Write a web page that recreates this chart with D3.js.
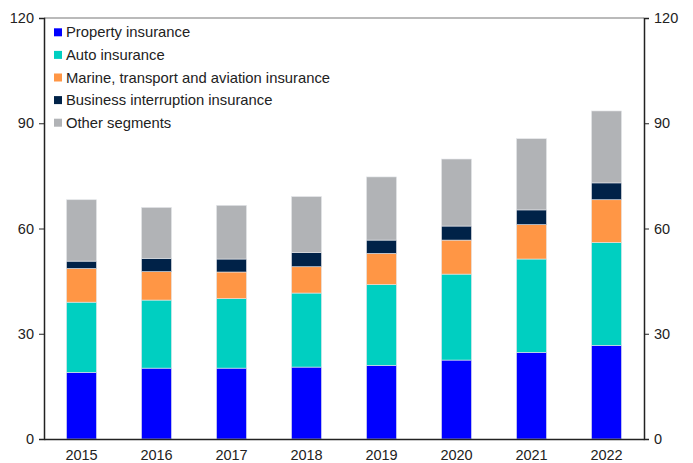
<!DOCTYPE html>
<html>
<head>
<meta charset="utf-8">
<script src="https://cdn.jsdelivr.net/npm/d3@7"></script>
<style>
  body { margin: 0; background: #fff; }
  text { font-family: "Liberation Sans", Arial, sans-serif; fill: #222; }
</style>
</head>
<body>
<svg id="chart" width="693" height="463"></svg>
<script>
var years = ["2015", "2016", "2017", "2018", "2019", "2020", "2021", "2022"];
var seriesNames = ["Property insurance", "Auto insurance", "Marine, transport and aviation insurance",
                   "Business interruption insurance", "Other segments"];
var property = [19.0, 20.2, 20.2, 20.5, 21.0, 22.5, 24.7, 26.7];
var auto = [20.0, 19.4, 19.8, 21.1, 23.0, 24.5, 26.6, 29.3];
var marine = [9.6, 8.1, 7.6, 7.5, 8.9, 9.7, 9.8, 12.2];
var business = [2.1, 3.8, 3.7, 4.0, 3.8, 4.0, 4.2, 4.8];
var other = [17.5, 14.5, 15.3, 16.0, 18.0, 19.1, 20.3, 20.5];
var yTicks = [0, 30, 60, 90, 120];

var colors = ["#0000ff", "#00cfc1", "#ff9645", "#002248", "#b1b3b6"];
var seriesValues = [property, auto, marine, business, other];

var svg = d3.select("#chart");
var margin = {top: 18, right: 49, bottom: 24, left: 44},
    width = +svg.attr("width") - margin.left - margin.right,
    height = +svg.attr("height") - margin.top - margin.bottom;

var g = svg.append("g")
    .attr("transform", "translate(" + margin.left + "," + margin.top + ")");

// table for the stack
var table = years.map(function(yr, i) {
    var row = {year: yr};
    seriesNames.forEach(function(s, j) { row[s] = seriesValues[j][i]; });
    return row;
});
var stacked = d3.stack().keys(seriesNames)(table);

var x = d3.scaleBand()
    .domain(years)
    .range([0, width])
    .paddingInner(0.6)
    .paddingOuter(0.3);

var y = d3.scaleLinear()
    .domain([0, 120])
    .range([height, 0]);

// bars
g.selectAll(".series")
    .data(stacked)
    .enter()
    .append("g")
    .attr("fill", function(d, i) { return colors[i]; })
    .selectAll("rect")
    .data(function(d) { return d; })
    .enter()
    .append("rect")
    .attr("x", function(d) { return x(d.data.year); })
    .attr("y", function(d) { return y(d[1]); })
    .attr("width", x.bandwidth())
    .attr("height", function(d) { return y(d[0]) - y(d[1]); })
    .attr("stroke", "#e4e6ea")
    .attr("stroke-width", 0.6);

// frame top
g.append("line")
    .attr("x1", 0).attr("x2", width)
    .attr("y1", 0).attr("y2", 0)
    .attr("stroke", "#777").attr("stroke-width", 1.2);

// left axis
var leftAxis = g.append("g")
    .call(d3.axisLeft(y).tickValues(yTicks).tickSize(5).tickPadding(5));
// right axis
var rightAxis = g.append("g")
    .attr("transform", "translate(" + width + ",0)")
    .call(d3.axisRight(y).tickValues(yTicks).tickSize(5).tickPadding(5));
// bottom axis
var bottomAxis = g.append("g")
    .attr("transform", "translate(0," + height + ")")
    .call(d3.axisBottom(x).tickSize(0).tickPadding(11));

[leftAxis, rightAxis, bottomAxis].forEach(function(a) {
    a.selectAll("path").attr("stroke", "#222").attr("stroke-width", 1.5);
    a.selectAll("line").attr("stroke", "#222");
    a.selectAll("text").attr("font-size", 14.5).attr("fill", "#222")
        .attr("font-family", "Liberation Sans, Arial, sans-serif");
});

// legend
var legend = g.selectAll(".legend")
    .data(seriesNames)
    .enter()
    .append("g")
    .attr("transform", function(d, i) { return "translate(10," + (14.3 + i * 22.6) + ")"; });

legend.append("rect")
    .attr("x", 0).attr("y", -4)
    .attr("width", 8).attr("height", 8)
    .attr("fill", function(d, i) { return colors[i]; });

legend.append("text")
    .attr("x", 12)
    .attr("y", 0)
    .attr("dy", "0.35em")
    .attr("font-size", 14.8)
    .text(function(d) { return d; });
</script>
</body>
</html>
